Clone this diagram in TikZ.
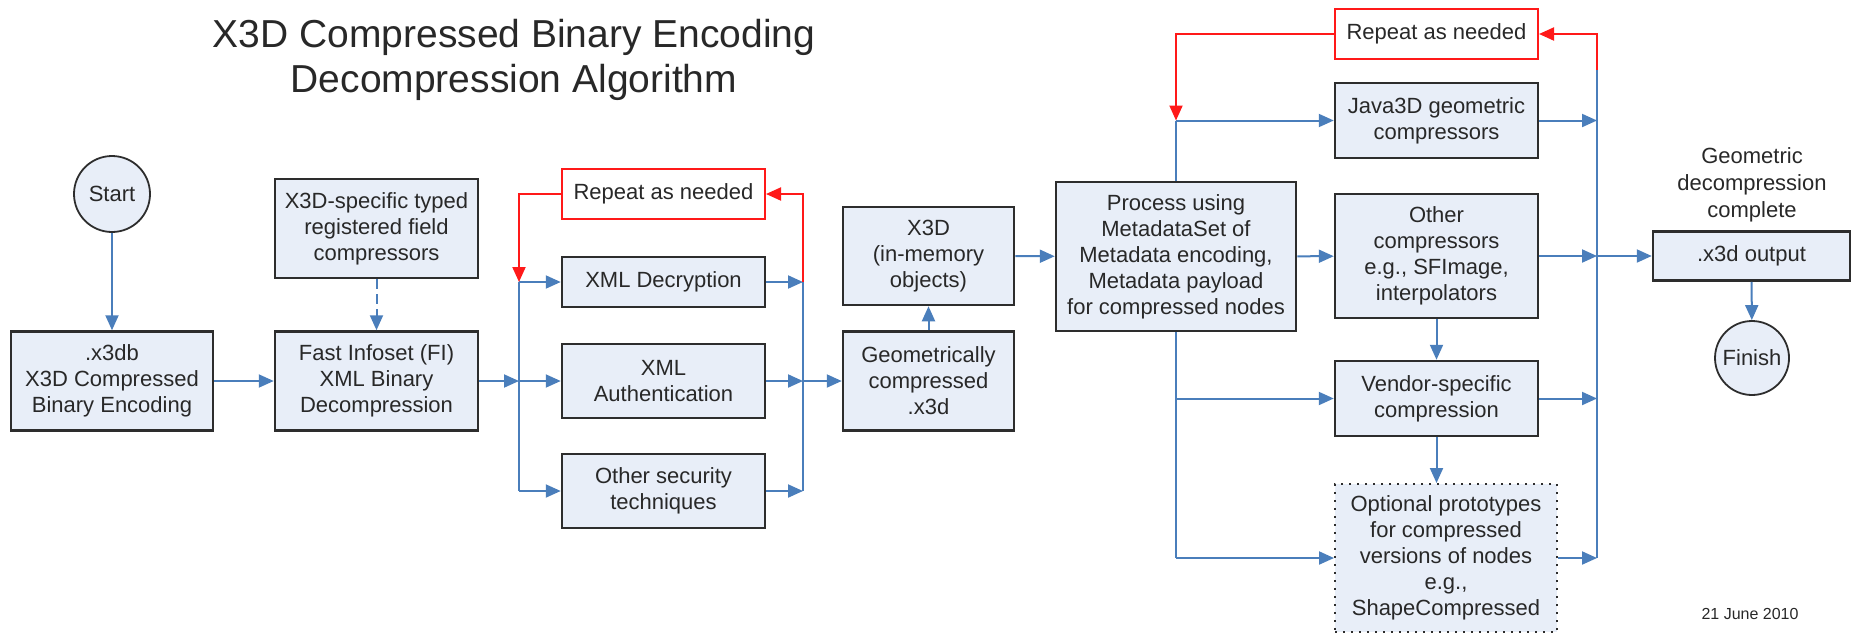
\documentclass[tikz,border=0pt]{standalone}
\usepackage{fontspec}
\setmainfont{Liberation Sans}
\usetikzlibrary{arrows.meta}
\definecolor{lnblue}{RGB}{74,126,187}
\definecolor{boxfill}{RGB}{232,238,248}
\definecolor{boxline}{RGB}{45,45,45}
\definecolor{txt}{RGB}{40,40,40}
\definecolor{loopred}{RGB}{255,25,25}
\begin{document}
\begin{tikzpicture}[x=1pt,y=-1pt,
  every node/.style={text=txt, font=\fontsize{22}{26}\selectfont},
  box/.style 2 args={draw=boxline, line width=2.5pt, fill=boxfill, rectangle, inner sep=0pt, align=center, minimum width=#1, minimum height=#2},
  dotbox/.style 2 args={draw=boxline, line width=2pt, dash pattern=on 2pt off 6pt, fill=boxfill, rectangle, inner sep=0pt, align=center, minimum width=#1, minimum height=#2},
  redbox/.style 2 args={draw=loopred, line width=2pt, fill=white, rectangle, inner sep=0pt, align=center, minimum width=#1, minimum height=#2},
  circ/.style={circle, draw=boxline, line width=1.8pt, fill=boxfill, inner sep=0pt, minimum size=#1},
  conn/.style={draw=lnblue, line width=2pt},
  arr/.style={conn, -{Triangle[length=15pt,width=13pt]}},
  redarr/.style={draw=loopred, line width=2pt, -{Triangle[length=15pt,width=13pt]}},
  plain/.style={text=txt, inner sep=0pt}
]
\useasboundingbox (0,0) rectangle (1854,633);

% title
\node[plain, font=\fontsize{39}{45}\selectfont, anchor=base] (title1) at (514,47) {X3D Compressed Binary Encoding};
\node[plain, font=\fontsize{39}{45}\selectfont, anchor=base] (title2) at (514,92) {Decompression Algorithm};

% left part
\node[circ=76pt] (start) at (112,194) {Start};
\node[box={202}{99}] (x3db) at (112,381) {.x3db\\X3D Compressed\\Binary Encoding};
\node[box={203}{99}] (xspec) at (376.5,228.5) {X3D-specific typed\\registered field\\compressors};
\node[box={203}{99}] (fi) at (376.5,381) {Fast Infoset (FI)\\XML Binary\\Decompression};

\node[redbox={203}{50}] (rep1) at (663.5,194) {Repeat as needed};
\node[box={203}{50}] (dec) at (663.5,282) {XML Decryption};
\node[box={203}{74}] (auth) at (663.5,381) {XML\\Authentication};
\node[box={203}{74}] (other) at (663.5,491) {Other security\\techniques};

\node[box={171}{98}] (mem) at (928.5,256) {X3D\\(in-memory\\objects)};
\node[box={171}{99}] (geo) at (928.5,381) {Geometrically\\compressed\\.x3d};

\node[box={240}{149}] (proc) at (1176,256.5) {Process using\\MetadataSet of\\Metadata encoding,\\Metadata payload\\for compressed nodes};

\node[redbox={203}{50}] (rep2) at (1436.5,34) {Repeat as needed};
\node[box={203}{75}] (java) at (1436.5,120.5) {Java3D geometric\\compressors};
\node[box={203}{124}] (othc) at (1436.5,256) {Other\\compressors\\e.g., SFImage,\\interpolators};
\node[box={203}{75}] (vend) at (1436.5,398.5) {Vendor-specific\\compression};
\node[dotbox={222}{148}] (opt) at (1446,558) {Optional prototypes\\for compressed\\versions of nodes\\e.g.,\\ShapeCompressed};

\node[plain, anchor=base] (gd1) at (1752,163) {Geometric};
\node[plain, anchor=base] (gd2) at (1752,190) {decompression};
\node[plain, anchor=base] (gd3) at (1752,217) {complete};
\node[box={197}{49}] (out) at (1751.5,256) {.x3d output};
\node[circ=74pt] (finish) at (1752,358) {Finish};

\node[plain, font=\fontsize{16}{19}\selectfont, anchor=base] (date) at (1750,619) {21 June 2010};

% junction coordinates
\coordinate (l1) at (519,282);
\coordinate (lm) at (519,381);
\coordinate (l3) at (519,491);
\coordinate (r1) at (803,282);
\coordinate (r2) at (803,381);
\coordinate (r3) at (803,491);
\coordinate (p1) at (1176,120.5);
\coordinate (p2) at (1176,398.5);
\coordinate (p3) at (1176,558);
\coordinate (q0) at (1597,70);
\coordinate (q1) at (1597,120.5);
\coordinate (q2) at (1597,256);
\coordinate (q3) at (1597,398.5);
\coordinate (q4) at (1597,558);

% connectors, left
\draw[arr] (start) -- (x3db);
\draw[arr, dash pattern=on 10pt off 5pt] (xspec) -- (fi);
\draw[arr] (x3db) -- (fi);
\draw[arr] (fi) -- (lm);
\draw[conn] (l1) -- (l3);
\draw[arr] (l1) -- (dec);
\draw[arr] (lm) -- (auth);
\draw[arr] (l3) -- (other);
\draw[arr] (dec) -- (r1);
\draw[arr] (auth) -- (r2);
\draw[arr] (other) -- (r3);
\draw[conn] (r1) -- (r3);
\draw[arr] (r2) -- (geo);
\draw[redarr] (rep1.west) -| (l1);
\draw[redarr] (r1) |- (rep1.east);

% middle
\draw[arr] (geo) -- (mem);
\draw[arr] (mem) -- (proc);
\draw[conn] (proc.north) -- (p1);
\draw[arr] (p1) -- (java);
\draw[redarr] (rep2.west) -| (p1);
\draw[arr] (proc) -- (othc);
\draw[conn] (proc.south) -- (p3);
\draw[arr] (p2) -- (vend);
\draw[arr] (p3) -- (opt);

% right
\draw[arr] (othc) -- (vend);
\draw[arr] (vend.south) -- (vend.south |- opt.north);
\draw[conn] (q0) -- (q4);
\draw[arr] (java) -- (q1);
\draw[arr] (othc) -- (q2);
\draw[arr] (vend) -- (q3);
\draw[arr] (opt) -- (q4);
\draw[redarr] (q0) |- (rep2.east);
\draw[arr] (q2) -- (out);
\draw[arr] (out) -- (finish);
\end{tikzpicture}
\end{document}
